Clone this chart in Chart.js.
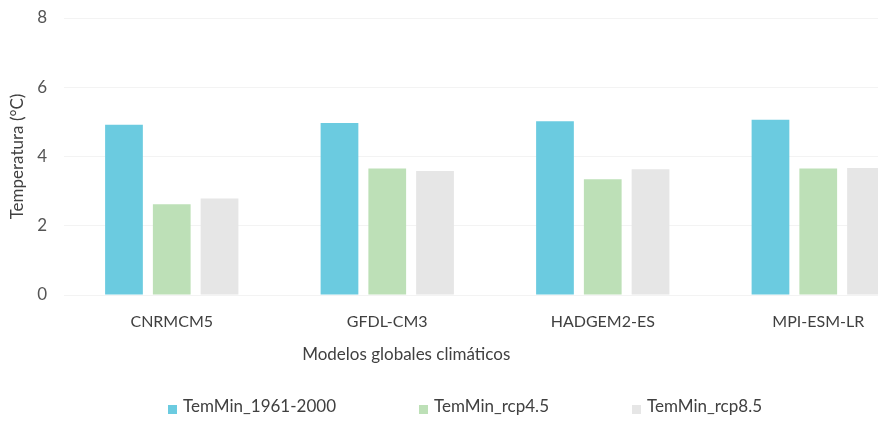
<!DOCTYPE html>
<html>
<head>
<meta charset="utf-8">
<script src="https://cdn.jsdelivr.net/npm/chart.js@4.4.1/dist/chart.umd.min.js"></script>
<style>
    html, body { margin: 0; padding: 0; background: #fff; overflow: hidden; }
    #contenedor { width: 930px; height: 426px; }
</style>
</head>
<body>
<div id="contenedor"><canvas id="barChart"></canvas></div>
<script>
var modelos = ['CNRMCM5', 'GFDL-CM3', 'HADGEM2-ES', 'MPI-ESM-LR'];
var temMinHist = [4.92, 4.97, 5.02, 5.06];
var temMinRcp45 = [2.62, 3.65, 3.34, 3.65];
var temMinRcp85 = [2.79, 3.58, 3.63, 3.67];
var yTicks = [0, 2, 4, 6, 8];

var fuente = 'Lato, "Open Sans", sans-serif';
var colorTexto = '#404040';

// titulo del eje x, algo a la izquierda del centro
var tituloEjeX = {
    id: 'tituloEjeX',
    afterDraw: function (chart) {
        var ctx = chart.ctx;
        var area = chart.chartArea;
        ctx.save();
        ctx.font = '17px ' + fuente;
        ctx.fillStyle = colorTexto;
        ctx.textAlign = 'center';
        ctx.textBaseline = 'middle';
        ctx.fillText('Modelos globales climáticos', area.left + (area.right - area.left) * 0.397, area.bottom + 60);
        ctx.restore();
    }
};

// leyenda propia: cuadrito + texto, centrada abajo
var leyenda = {
    id: 'leyenda',
    afterDraw: function (chart) {
        var ctx = chart.ctx;
        var caja = 9, sep = 6, hueco = 83;
        ctx.save();
        ctx.font = '17px ' + fuente;
        ctx.textBaseline = 'middle';
        var items = chart.data.datasets.map(function (ds) {
            return {
                texto: ds.label,
                color: ds.backgroundColor,
                ancho: caja + sep + ctx.measureText(ds.label).width
            };
        });
        var total = hueco * (items.length - 1);
        items.forEach(function (it) { total += it.ancho; });
        var x = (chart.width - total) / 2;
        var y = chart.height - 19;
        items.forEach(function (it) {
            ctx.fillStyle = it.color;
            ctx.fillRect(x, y - 2, caja, caja);
            ctx.fillStyle = colorTexto;
            ctx.fillText(it.texto, x + caja + sep, y);
            x += it.ancho + hueco;
        });
        ctx.restore();
    }
};

var barData = {
    labels: modelos,
    datasets: [
        { label: 'TemMin_1961-2000', data: temMinHist, backgroundColor: '#6bcbe0' },
        { label: 'TemMin_rcp4.5', data: temMinRcp45, backgroundColor: '#bde0b7' },
        { label: 'TemMin_rcp8.5', data: temMinRcp85, backgroundColor: '#e6e6e6' }
    ]
};

var barOptions = {
    responsive: true,
    maintainAspectRatio: false,
    animation: false,
    categoryPercentage: 0.665,
    barPercentage: 0.79,
    layout: { padding: { top: 0, right: 4, bottom: 91, left: 0 } },
    plugins: {
        legend: { display: false },
        tooltip: { enabled: false }
    },
    scales: {
        x: {
            grid: { display: false },
            border: { display: false },
            afterFit: function (scale) {
                scale.height = 40;
            },
            ticks: {
                color: colorTexto,
                font: { family: fuente, size: 16 },
                padding: 9
            }
        },
        y: {
            min: 0,
            max: 8,
            afterBuildTicks: function (scale) {
                scale.ticks = yTicks.map(function (v) { return { value: v }; });
            },
            afterFit: function (scale) {
                scale.width = 64;
                scale.paddingTop = 18;
            },
            grid: { color: '#f3f3f3', drawTicks: false },
            border: { display: false },
            ticks: {
                color: '#555555',
                font: { family: fuente, size: 17 },
                padding: 17
            },
            title: {
                display: true,
                text: 'Temperatura (°C)',
                color: colorTexto,
                font: { family: fuente, size: 17 },
                padding: { top: 7, bottom: 0 }
            }
        }
    }
};

var ctx2 = document.getElementById('barChart').getContext('2d');
new Chart(ctx2, {
    type: 'bar',
    data: barData,
    options: barOptions,
    plugins: [tituloEjeX, leyenda]
});
</script>
</body>
</html>
